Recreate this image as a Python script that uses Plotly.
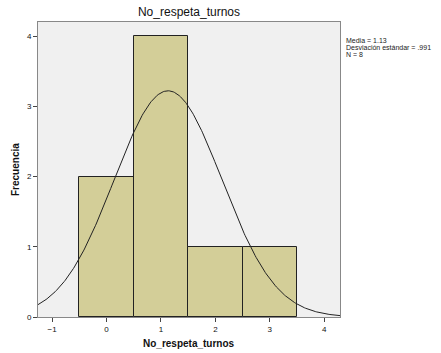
import numpy as np
import plotly.graph_objects as go

categories = [0, 1, 2, 3]
counts = [2, 4, 1, 1]
mean = 1.13
sd = 0.991
n = 8
bin_width = 1.0
x_title = "No_respeta_turnos"
y_title = "Frecuencia"

x_range = [-1.26, 4.29]
xs = np.linspace(x_range[0], x_range[1], 300)
ys = n * bin_width / (sd * np.sqrt(2 * np.pi)) * np.exp(-0.5 * ((xs - mean) / sd) ** 2)

fig = go.Figure()
fig.add_trace(go.Bar(x=categories, y=counts, width=1.0,
                     marker=dict(color="#d3ce98", line=dict(color="#222222", width=1)),
                     showlegend=False, hoverinfo="skip"))
fig.add_trace(go.Scatter(x=xs, y=ys, mode="lines", line=dict(color="#222222", width=1),
                         showlegend=False, hoverinfo="skip"))

L, R, T, B = 38, 101, 22, 36
W, H = 441, 353
pw, ph = W - L - R, H - T - B

stat_lines = [f"Media = {mean:.2f}",
              f"Desviación estándar = {str(round(sd, 3)).lstrip('0')}",
              f"N = {n}"]
annotations = []
for i, t in enumerate(stat_lines):
    ypix = 40.5 + 7 * i
    annotations.append(dict(text=t, xref="paper", yref="paper", x=1.013,
                            y=1 - (ypix - T) / ph, xanchor="left", yanchor="middle",
                            align="left", showarrow=False,
                            font=dict(size=7, color="#222222")))
annotations.append(dict(text=f"<b>{x_title}</b>", xref="paper", yref="paper",
                        x=(189 - L) / pw, y=1 - (343 - T) / ph, xanchor="center", yanchor="middle",
                        showarrow=False, font=dict(size=10, color="#111111")))
annotations.append(dict(text=f"<b>{y_title}</b>", xref="paper", yref="paper", textangle=-90,
                        x=(15 - L) / pw, y=1 - (170 - T) / ph, xanchor="center", yanchor="middle",
                        showarrow=False, font=dict(size=10, color="#111111")))

fig.update_layout(
    width=W, height=H,
    margin=dict(l=L, r=R, t=T, b=B),
    paper_bgcolor="white", plot_bgcolor="#f0f0f0",
    font=dict(family="Liberation Sans, Arial, sans-serif", size=8, color="#222222"),
    title=dict(text="No_respeta_turnos", x=189 / W, xanchor="center", y=1 - 12 / H, yanchor="middle",
               font=dict(size=12, color="#111111")),
    bargap=0,
    xaxis=dict(range=x_range, tickvals=[-1, 0, 1, 2, 3, 4], ticks="outside", ticklen=4,
               tickcolor="#444444", showgrid=False, zeroline=False, showline=True,
               linecolor="#888888", linewidth=1, mirror=True, automargin=False,
               tickfont=dict(color="#111111")),
    yaxis=dict(range=[0, 4.2], tickvals=[0, 1, 2, 3, 4], ticks="outside", ticklen=4,
               tickcolor="#444444", showgrid=False, zeroline=False, showline=True,
               linecolor="#888888", linewidth=1, mirror=True, automargin=False,
               tickfont=dict(color="#111111")),
    annotations=annotations,
)
fig.write_html("out.html")
